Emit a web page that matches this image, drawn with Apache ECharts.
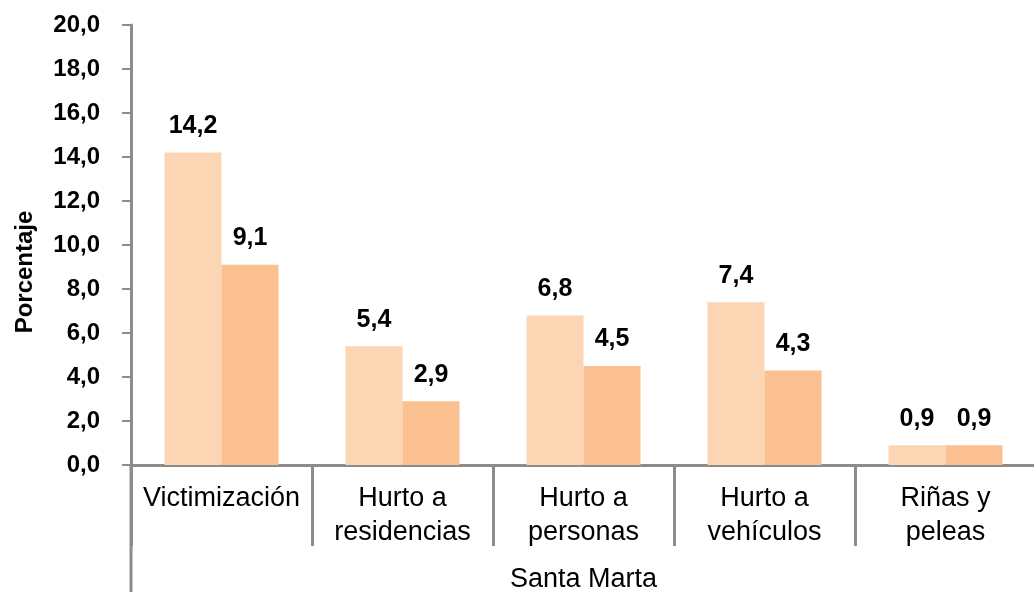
<!DOCTYPE html>
<html><head><meta charset="utf-8">
<script src="https://cdn.jsdelivr.net/npm/echarts@6/dist/echarts.min.js"></script>
<style>html,body{margin:0;padding:0;background:#fff}#c{width:1034px;height:592px}</style>
</head><body><div id="c"></div>
<script>
var categories = ['Victimización', 'Hurto a\nresidencias', 'Hurto a\npersonas', 'Hurto a\nvehículos', 'Riñas y\npeleas'];
var series1 = [14.2, 5.4, 6.8, 7.4, 0.9];
var series2 = [9.1, 2.9, 4.5, 4.3, 0.9];
var axisTitle = 'Porcentaje';
var groupName = 'Santa Marta';

var chart = echarts.init(document.getElementById('c'));
var fmt = function (v) { return Number(v).toFixed(1).replace('.', ','); };
var font = 'Liberation Sans, Arial, sans-serif';
var lbl = { show: true, position: 'top', distance: 14, color: '#000', fontFamily: font, fontWeight: 'bold', fontSize: 25,
  formatter: function (p) { return fmt(p.value); } };
chart.setOption({
  animation: false,
  grid: { left: 131, right: -2, top: 25, bottom: 127, outerBoundsMode: 'none', containLabel: false },
  xAxis: {
    type: 'category', data: categories,
    name: groupName, nameLocation: 'middle', nameGap: 101,
    nameTextStyle: { fontFamily: font, fontSize: 27, color: '#000' },
    axisLine: { lineStyle: { color: '#8c8c8c', width: 3 } },
    axisTick: { show: true, length: 81, lineStyle: { color: '#8c8c8c', width: 3 } },
    axisLabel: { interval: 0, margin: 17, color: '#000', fontFamily: font, fontSize: 27, lineHeight: 34 }
  },
  yAxis: {
    type: 'value', min: 0, max: 20, interval: 2,
    axisLine: { show: true, lineStyle: { color: '#8c8c8c', width: 3 } },
    axisTick: { show: true, length: 9, lineStyle: { color: '#8c8c8c', width: 2 } },
    splitLine: { show: false },
    axisLabel: { margin: 31, color: '#000', fontFamily: font, fontSize: 24, fontWeight: 'bold', formatter: fmt }
  },
  series: [
    { type: 'bar', data: series1, barGap: '0%', barCategoryGap: '37%', itemStyle: { color: '#FCD5B5' }, label: lbl },
    { type: 'bar', data: series2, itemStyle: { color: '#FAC090' }, label: lbl }
  ],
  graphic: [
    { type: 'line', shape: { x1: 131, y1: 465, x2: 131, y2: 592 }, style: { stroke: '#8c8c8c', lineWidth: 3 } },
    { type: 'text', x: 25, y: 272, rotation: Math.PI / 2,
      style: { text: axisTitle, fontFamily: font, fontSize: 24, fontWeight: 'bold', fill: '#000', align: 'center', verticalAlign: 'middle' } }
  ]
});
</script></body></html>
